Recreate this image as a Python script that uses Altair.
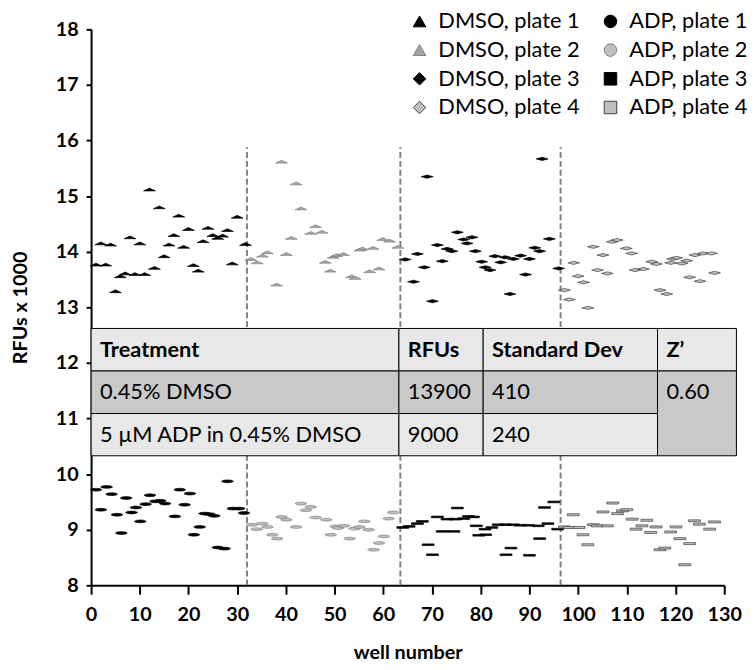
import altair as alt
import pandas as pd

# ---------------- data ----------------
series_names = ["DMSO, plate 1", "DMSO, plate 2", "DMSO, plate 3", "DMSO, plate 4",
                "ADP, plate 1", "ADP, plate 2", "ADP, plate 3", "ADP, plate 4"]

dmso_p1_wells = [1, 2, 3, 4, 5, 6, 7, 8, 9, 10, 11, 12, 13, 14, 15, 16, 17, 18, 19, 20,
                 21, 22, 23, 24, 25, 26, 27, 28, 29, 30, 31.7]
dmso_p1_rfu = [13.76, 14.14, 13.76, 14.12, 13.28, 13.55, 13.60, 14.25, 13.59, 14.14, 13.59,
               15.11, 13.70, 14.79, 13.91, 14.12, 14.29, 14.64, 14.08, 14.40, 13.75, 13.65,
               14.18, 14.42, 14.29, 14.24, 14.28, 14.38, 13.78, 14.62, 14.13]

dmso_p2_wells = [32.8, 34.1, 35.2, 36.2, 38.1, 39.1, 40.1, 41.1, 42.1, 43.1, 45.1, 46.1, 47.4,
                 48.1, 49.1, 49.7, 50.4, 51.8, 53.5, 54.2, 55.2, 55.7, 57.2, 57.9, 59.1, 59.9,
                 61.3, 63.0]
dmso_p2_rfu = [13.86, 13.80, 13.92, 13.98, 13.40, 15.61, 13.95, 14.24, 15.22, 14.77, 14.33,
               14.45, 14.35, 13.81, 13.65, 13.90, 13.93, 13.95, 13.55, 13.52, 14.03, 14.05,
               13.64, 14.06, 13.69, 14.22, 14.19, 14.08]

dmso_p3_wells = [64.5, 66.2, 67.0, 68.4, 69.0, 70.1, 71.1, 72.1, 73.1, 74.1, 75.2, 76.5, 77.2,
                 78.2, 78.9, 80.2, 80.9, 81.9, 82.9, 84.1, 85.0, 86.0, 86.7, 88.2, 89.2, 90.0,
                 91.1, 92.1, 92.6, 94.1, 96.0]
dmso_p3_rfu = [13.86, 13.46, 13.96, 13.72, 15.35, 13.11, 14.12, 13.83, 14.05, 14.01, 14.35,
               14.22, 14.15, 14.26, 14.01, 13.82, 13.72, 13.67, 13.92, 13.81, 13.90, 13.24,
               13.87, 13.93, 13.59, 13.87, 14.07, 14.01, 15.67, 14.23, 13.70]

dmso_p4_wells = [97.2, 98.2, 99.1, 100.0, 101.1, 102.0, 103.1, 104.0, 105.1, 106.0, 107.0,
                 108.0, 109.9, 111.0, 111.7, 113.4, 115.1, 116.1, 116.8, 118.2, 119.0, 119.4,
                 120.2, 121.3, 122.3, 122.9, 124.0, 125.0, 125.7, 127.4, 128.0]
dmso_p4_rfu = [13.31, 13.14, 13.80, 13.56, 13.45, 12.99, 14.09, 13.67, 13.94, 13.61, 14.18,
               14.21, 14.06, 13.97, 13.67, 13.69, 13.82, 13.78, 13.31, 13.24, 13.80, 13.87,
               13.89, 13.79, 13.84, 13.54, 13.94, 13.47, 13.97, 13.97, 13.62]

adp_p1_wells = [1.0, 2.0, 3.2, 4.2, 5.3, 6.2, 7.2, 8.3, 9.2, 10.1, 11.2, 12.1, 13.2, 14.2, 15.2,
                17.2, 18.2, 19.2, 20.3, 21.1, 22.3, 23.3, 24.3, 25.3, 26.0, 27.4, 28.0, 29.1,
                30.4, 31.4]
adp_p1_rfu = [9.72, 9.36, 9.77, 9.64, 9.27, 8.94, 9.57, 9.31, 9.40, 9.15, 9.46, 9.62, 9.51,
              9.52, 9.47, 9.24, 9.72, 9.45, 9.65, 8.91, 9.05, 9.29, 9.28, 9.25, 8.68, 8.66,
              9.87, 9.38, 9.38, 9.30]

adp_p2_wells = [33.1, 34.0, 35.2, 36.2, 37.2, 38.2, 39.1, 40.1, 42.1, 43.1, 44.1, 45.1, 46.1,
                48.3, 49.2, 50.2, 50.7, 51.9, 53.1, 54.1, 55.1, 56.1, 57.0, 58.0, 59.1, 60.1,
                61.1, 62.0]
adp_p2_rfu = [9.09, 9.01, 9.11, 9.05, 8.91, 8.84, 9.23, 9.18, 9.05, 9.47, 9.35, 9.41, 9.22,
              9.18, 8.91, 9.06, 9.03, 9.07, 8.84, 9.02, 9.05, 9.15, 9.00, 8.64, 8.76, 8.88,
              9.20, 9.31]

adp_p3_wells = [64.0, 65.3, 67.0, 68.0, 69.2, 70.1, 71.1, 72.1, 73.1, 74.5, 74.8, 75.2, 76.5,
                77.5, 78.5, 79.1, 79.6, 80.9, 81.0, 82.3, 83.6, 85.0, 85.2, 86.2, 86.7, 88.1,
                89.8, 90.0, 91.8, 92.1, 93.1, 93.8, 95.0, 95.8]
adp_p3_rfu = [9.04, 9.06, 9.11, 9.15, 8.73, 8.55, 9.23, 8.97, 9.19, 8.97, 9.19, 9.39, 9.20,
              9.24, 9.23, 9.07, 8.90, 9.01, 8.91, 9.04, 9.09, 9.09, 8.55, 8.67, 9.09, 9.08,
              9.08, 8.54, 9.07, 8.84, 9.40, 9.11, 9.50, 9.01]

adp_p4_wells = [97.2, 98.2, 99.0, 100.2, 101.0, 102.0, 103.1, 103.9, 105.1, 106.0, 107.1,
                108.1, 109.1, 110.0, 111.1, 111.9, 113.1, 114.1, 114.9, 116.0, 116.8, 117.8,
                119.0, 120.1, 120.9, 121.9, 122.9, 123.9, 124.9, 127.0, 128.0]
adp_p4_rfu = [9.05, 9.04, 9.27, 9.04, 8.91, 8.73, 9.09, 9.07, 9.32, 9.07, 9.48, 9.29, 9.34,
              9.36, 9.19, 9.01, 9.07, 9.17, 8.95, 9.05, 8.64, 8.67, 8.96, 9.05, 8.84, 8.37,
              8.75, 9.16, 9.10, 9.01, 9.14]

plate_dividers = [32, 63.5, 96.4]
divider_top = 15.88

table_header = ["Treatment", "RFUs", "Standard Dev", "Z\u2019"]
table_rows = [["0.45% DMSO", "13900", "410", "0.60"],
              ["5 \u00b5M ADP in 0.45% DMSO", "9000", "240", ""]]
table_col_edges = [0, 63.2, 80.5, 116.3, 132.5]     # in well units
table_row_edges = [12.62, 11.855, 11.09, 10.33]     # in RFU x 1000 units

# ---------------- build tables ----------------
series_data = [
    ("DMSO, plate 1", dmso_p1_wells, dmso_p1_rfu),
    ("DMSO, plate 2", dmso_p2_wells, dmso_p2_rfu),
    ("DMSO, plate 3", dmso_p3_wells, dmso_p3_rfu),
    ("DMSO, plate 4", dmso_p4_wells, dmso_p4_rfu),
    ("ADP, plate 1", adp_p1_wells, adp_p1_rfu),
    ("ADP, plate 2", adp_p2_wells, adp_p2_rfu),
    ("ADP, plate 3", adp_p3_wells, adp_p3_rfu),
    ("ADP, plate 4", adp_p4_wells, adp_p4_rfu),
]
rows = []
for name, ws, vs in series_data:
    for w, v in zip(ws, vs):
        rows.append({"series": name, "well": w, "rfu": v})
df = pd.DataFrame(rows)

div_df = pd.DataFrame({"well": plate_dividers,
                       "lo": [8] * len(plate_dividers),
                       "hi": [divider_top] * len(plate_dividers)})

cells = []
texts = []
for c in range(4):
    cells.append({"x0": table_col_edges[c], "x1": table_col_edges[c + 1],
                  "y0": table_row_edges[0], "y1": table_row_edges[1], "shade": "light"})
    texts.append({"x": table_col_edges[c], "y": (table_row_edges[0] + table_row_edges[1]) / 2,
                  "label": table_header[c], "bold": True})
for r in range(2):
    shade = "dark" if r == 0 else "light"
    for c in range(3):
        cells.append({"x0": table_col_edges[c], "x1": table_col_edges[c + 1],
                      "y0": table_row_edges[r + 1], "y1": table_row_edges[r + 2], "shade": shade})
        texts.append({"x": table_col_edges[c], "y": (table_row_edges[r + 1] + table_row_edges[r + 2]) / 2,
                      "label": table_rows[r][c], "bold": False})
# merged Z' cell
cells.append({"x0": table_col_edges[3], "x1": table_col_edges[4],
              "y0": table_row_edges[1], "y1": table_row_edges[3], "shade": "dark"})
texts.append({"x": table_col_edges[3], "y": (table_row_edges[1] + table_row_edges[2]) / 2,
              "label": table_rows[0][3], "bold": False})
cell_df = pd.DataFrame(cells)
text_df = pd.DataFrame(texts)

# ---------------- styles ----------------
FONT = "Lato"
TRI = "M-1,0.15L0,-0.32L1,0.15Z"
ELL = "M-1,0L-0.7,-0.17L0,-0.24L0.7,-0.17L1,0L0.7,0.17L0,0.24L-0.7,0.17Z"
DIA = "M-1,0L0,-0.27L1,0L0,0.27Z"
RECT = "M-1,-0.14L1,-0.14L1,0.14L-1,0.14Z"
RECT2 = "M-1,-0.17L1,-0.17L1,0.17L-1,0.17Z"
flat_paths = [TRI, TRI, DIA, DIA, ELL, ELL, RECT, RECT2]
flat_sizes = [144, 144, 121, 121, 169, 169, 196, 196]
legend_shapes = ["triangle-up", "triangle-up", "diamond", "diamond",
                 "circle", "circle", "square", "square"]
fills = ["#000000", "#a6a6a6", "#000000", "#bfbfbf", "#000000", "#bfbfbf", "#000000", "#bfbfbf"]
strokes = ["#000000", "#7f7f7f", "#000000", "#404040", "#000000", "#7f7f7f", "#000000", "#404040"]

x_enc = alt.X("well:Q", scale=alt.Scale(domain=[0, 130], nice=False, zero=False),
              axis=alt.Axis(values=list(range(0, 131, 10)), format="d", labelOverlap=False,
                            labelFlush=False, title="well number", tickSize=9,
                            labelPadding=11, titlePadding=18))
y_enc = alt.Y("rfu:Q", scale=alt.Scale(domain=[8, 18], nice=False, zero=False),
              axis=alt.Axis(values=list(range(8, 19)), format="d", labelOverlap=False,
                            labelFlush=False, title="RFUs x 1000", tickSize=5,
                            labelPadding=8, titlePadding=25))

rules = alt.Chart(div_df).mark_rule(color="#808080", strokeWidth=2, strokeDash=[6, 3]).encode(
    x=alt.X("well:Q"), y=alt.Y("lo:Q"), y2="hi:Q")

points = alt.Chart(df).mark_point(filled=True, strokeWidth=0.7, opacity=1).encode(
    x=x_enc, y=y_enc,
    shape=alt.Shape("series:N", scale=alt.Scale(domain=series_names, range=flat_paths), legend=None),
    fill=alt.Fill("series:N", scale=alt.Scale(domain=series_names, range=fills), legend=None),
    stroke=alt.Stroke("series:N", scale=alt.Scale(domain=series_names, range=strokes), legend=None),
    size=alt.Size("series:N", scale=alt.Scale(domain=series_names, range=flat_sizes), legend=None),
)

table_rects = alt.Chart(cell_df).mark_rect(stroke="#000000", strokeWidth=1).encode(
    x=alt.X("x0:Q"), x2="x1:Q", y=alt.Y("y0:Q"), y2="y1:Q",
    fill=alt.Fill("shade:N", scale=alt.Scale(domain=["light", "dark"], range=["#e8e8e8", "#c9c9c9"]),
                  legend=None),
)
table_head = alt.Chart(text_df).transform_filter("datum.bold").mark_text(
    align="left", baseline="middle", dx=9, font=FONT, fontSize=22, fontWeight="bold", color="black"
).encode(x="x:Q", y="y:Q", text="label:N")
table_body = alt.Chart(text_df).transform_filter("!datum.bold").mark_text(
    align="left", baseline="middle", dx=9, font=FONT, fontSize=22, color="black"
).encode(x="x:Q", y="y:Q", text="label:N")

leg = alt.Legend(title=None, orient="none", legendX=321, legendY=-19, columns=2,
                 labelFont=FONT, labelFontSize=22, labelColor="black", symbolSize=160,
                 symbolStrokeWidth=1, rowPadding=7, columnPadding=20, labelOffset=8,
                 padding=0, symbolOpacity=1, labelLimit=300)
legend_layer = alt.Chart(df).transform_filter("false").mark_point(filled=True, strokeWidth=1, opacity=1).encode(
    x="well:Q", y="rfu:Q",
    shape=alt.Shape("series:N", scale=alt.Scale(domain=series_names, range=legend_shapes), legend=leg),
    fill=alt.Fill("series:N", scale=alt.Scale(domain=series_names, range=fills), legend=leg),
    stroke=alt.Stroke("series:N", scale=alt.Scale(domain=series_names, range=strokes), legend=leg),
)

chart = alt.layer(rules, points, table_rects, table_head, table_body, legend_layer).resolve_scale(
    shape="independent", fill="independent", stroke="independent", size="independent"
).properties(
    width=640, height=562,
    autosize=alt.AutoSizeParams(type="none"),
    padding={"left": 84, "top": 18, "right": 23, "bottom": 80},
).configure_view(stroke=None).configure_axis(
    grid=False, domainColor="black", domainWidth=2, tickColor="black", tickWidth=2,
    labelFont=FONT, labelFontSize=20, labelFontWeight="bold", labelColor="black",
    titleFont=FONT, titleFontSize=20, titleFontWeight="bold", titleColor="black",
)

chart.save("out.html", embed_options={"renderer": "svg", "actions": False})
